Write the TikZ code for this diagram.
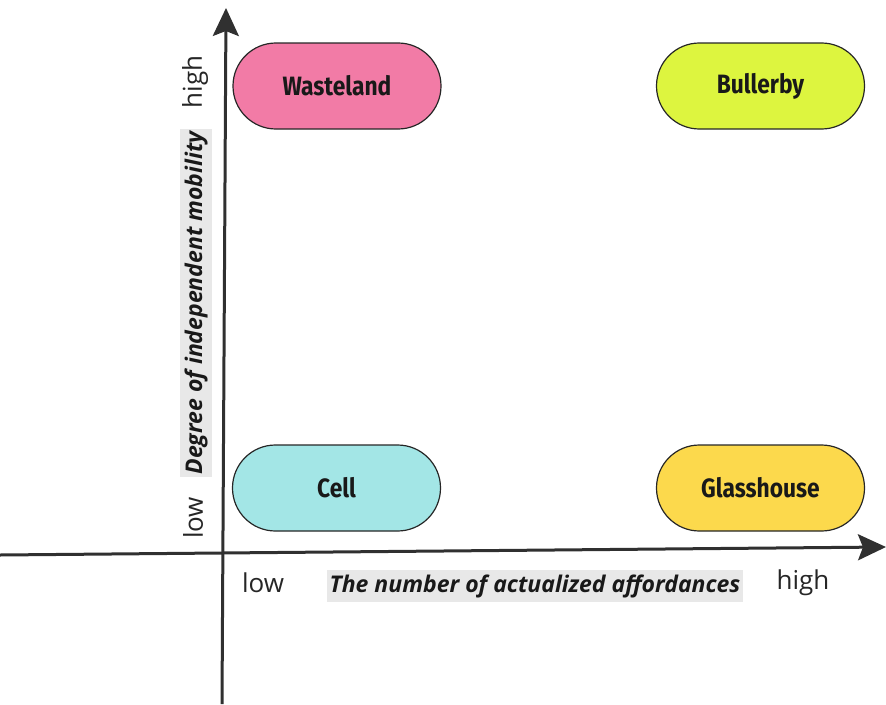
\documentclass[tikz,border=0pt]{standalone}
\usepackage{fontspec}
\setmainfont{Open Sans}
\newfontfamily\zonefont[FakeStretch=0.86]{Fira Sans}
\usetikzlibrary{arrows.meta}
\definecolor{axisgray}{HTML}{303030}
\definecolor{labelgray}{HTML}{E8E8E8}
\definecolor{wastepink}{HTML}{F27BA6}
\definecolor{bullerlime}{HTML}{DDF53F}
\definecolor{cellcyan}{HTML}{A3E6E6}
\definecolor{glassyellow}{HTML}{FCD94C}
\tikzset{
  zone/.style={draw=black!85,line width=1.2pt,rounded corners=42.9pt,
    minimum width=208pt,minimum height=86pt,
    font=\zonefont\bfseries\fontsize{26.5}{30}\selectfont,text=black!90},
  axisline/.style={draw=axisgray,line width=3pt,
    -{Stealth[length=28pt,width=26pt,inset=5pt]}},
  axislabel/.style={fill=labelgray,text=black!90,inner xsep=3pt,inner ysep=4pt,
    font=\bfseries\itshape\fontsize{23}{27}\selectfont},
  ticklabel/.style={text=black!85,font=\fontsize{26}{30}\selectfont}
}
\begin{document}
\begin{tikzpicture}[x=1pt,y=-1pt]
    \useasboundingbox (0,0) rectangle (886,704);
    % axes
    \coordinate (ybot) at (222,704);
    \coordinate (ytop) at (226,8);
    \coordinate (xleft) at (0,555);
    \coordinate (xright) at (886,547);
    \draw[axisline] (ybot) -- (ytop);
    \draw[axisline] (xleft) -- (xright);
    % quadrants
    \node[zone,fill=wastepink] (wasteland) at (337,86) {Wasteland};
    \node[zone,fill=bullerlime] (bullerby) at (760.5,86) {Bullerby};
    \node[zone,fill=cellcyan] (cell) at (336.5,488) {Cell};
    \node[zone,fill=glassyellow] (glasshouse) at (760.5,488) {Glasshouse};
    % labels
    \node[axislabel] (xlabel) at (535,586) {The number of actualized affordances};
    \node[axislabel,rotate=90] (ylabel) at (196,303) {Degree of independent mobility};
    \node[ticklabel] (xlow) at (263,583) {low};
    \node[ticklabel] (xhigh) at (803,583) {high};
    \node[ticklabel,rotate=90] (yhigh) at (195,82) {high};
    \node[ticklabel,rotate=90] (ylow) at (193,518) {low};
\end{tikzpicture}
\end{document}
